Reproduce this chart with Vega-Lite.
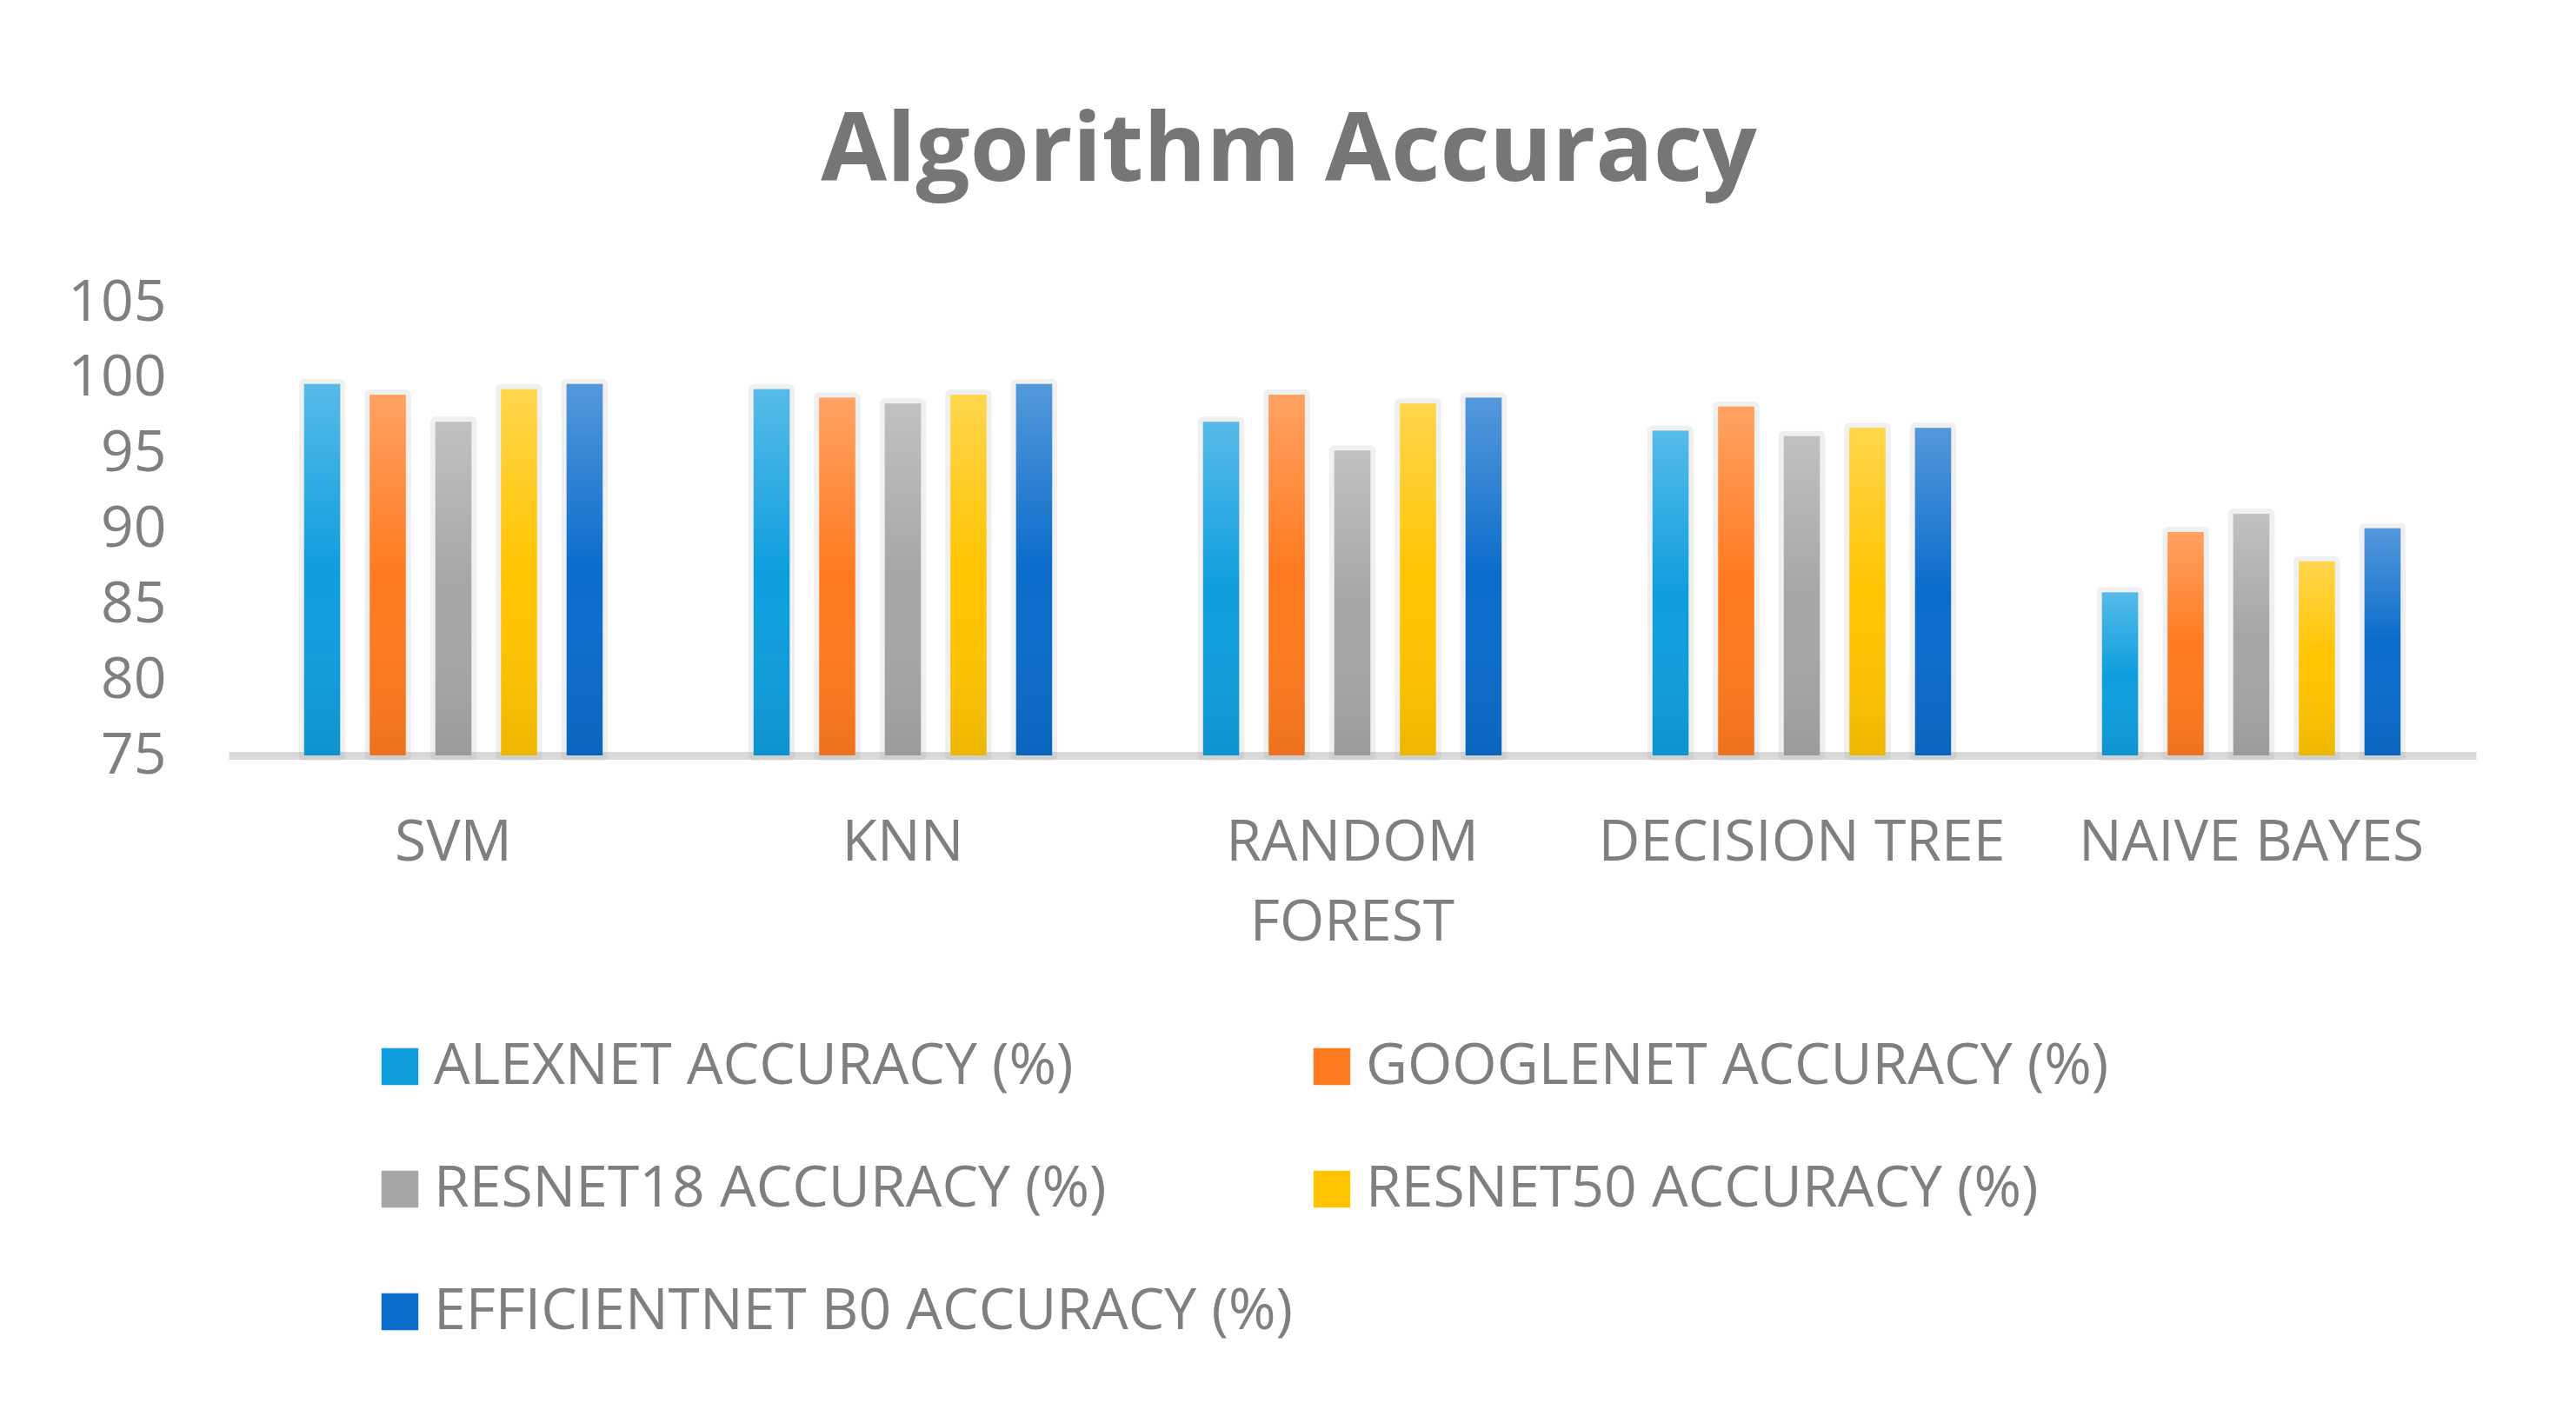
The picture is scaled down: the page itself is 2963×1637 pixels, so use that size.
{
  "$schema": "https://vega.github.io/schema/vega-lite/v6.json",
  "width": 2585,
  "height": 521,
  "autosize": {"type": "none"},
  "padding": {"left": 263, "top": 348, "right": 115, "bottom": 768},
  "background": "white",
  "title": {
    "text": "Algorithm Accuracy",
    "fontSize": 110,
    "fontWeight": "bold",
    "font": "Open Sans",
    "color": "#767676",
    "anchor": "middle",
    "dx": -73,
    "offset": 84
  },
  "config": {
    "view": {"stroke": null},
    "font": "Open Sans",
    "axis": {"labelLineHeight": 92}
  },
  "data": {
    "values": [
      {"Algorithm": "SVM", "Model": "ALEXNET ACCURACY (%)", "Accuracy": 99.6},
      {"Algorithm": "SVM", "Model": "GOOGLENET ACCURACY (%)", "Accuracy": 98.9},
      {"Algorithm": "SVM", "Model": "RESNET18 ACCURACY (%)", "Accuracy": 97.1},
      {"Algorithm": "SVM", "Model": "RESNET50 ACCURACY (%)", "Accuracy": 99.25},
      {"Algorithm": "SVM", "Model": "EFFICIENTNET B0 ACCURACY (%)", "Accuracy": 99.6},
      {"Algorithm": "KNN", "Model": "ALEXNET ACCURACY (%)", "Accuracy": 99.25},
      {"Algorithm": "KNN", "Model": "GOOGLENET ACCURACY (%)", "Accuracy": 98.7},
      {"Algorithm": "KNN", "Model": "RESNET18 ACCURACY (%)", "Accuracy": 98.3},
      {"Algorithm": "KNN", "Model": "RESNET50 ACCURACY (%)", "Accuracy": 98.9},
      {"Algorithm": "KNN", "Model": "EFFICIENTNET B0 ACCURACY (%)", "Accuracy": 99.6},
      {"Algorithm": "RANDOM FOREST", "Model": "ALEXNET ACCURACY (%)", "Accuracy": 97.1},
      {"Algorithm": "RANDOM FOREST", "Model": "GOOGLENET ACCURACY (%)", "Accuracy": 98.9},
      {"Algorithm": "RANDOM FOREST", "Model": "RESNET18 ACCURACY (%)", "Accuracy": 95.2},
      {"Algorithm": "RANDOM FOREST", "Model": "RESNET50 ACCURACY (%)", "Accuracy": 98.3},
      {"Algorithm": "RANDOM FOREST", "Model": "EFFICIENTNET B0 ACCURACY (%)", "Accuracy": 98.7},
      {"Algorithm": "DECISION TREE", "Model": "ALEXNET ACCURACY (%)", "Accuracy": 96.5},
      {"Algorithm": "DECISION TREE", "Model": "GOOGLENET ACCURACY (%)", "Accuracy": 98.1},
      {"Algorithm": "DECISION TREE", "Model": "RESNET18 ACCURACY (%)", "Accuracy": 96.15},
      {"Algorithm": "DECISION TREE", "Model": "RESNET50 ACCURACY (%)", "Accuracy": 96.7},
      {"Algorithm": "DECISION TREE", "Model": "EFFICIENTNET B0 ACCURACY (%)", "Accuracy": 96.7},
      {"Algorithm": "NAIVE BAYES", "Model": "ALEXNET ACCURACY (%)", "Accuracy": 85.8},
      {"Algorithm": "NAIVE BAYES", "Model": "GOOGLENET ACCURACY (%)", "Accuracy": 89.8},
      {"Algorithm": "NAIVE BAYES", "Model": "RESNET18 ACCURACY (%)", "Accuracy": 91.0},
      {"Algorithm": "NAIVE BAYES", "Model": "RESNET50 ACCURACY (%)", "Accuracy": 87.85},
      {"Algorithm": "NAIVE BAYES", "Model": "EFFICIENTNET B0 ACCURACY (%)", "Accuracy": 90.05}
    ]
  },
  "encoding": {
    "x": {
      "field": "Algorithm",
      "type": "nominal",
      "sort": ["SVM", "KNN", "RANDOM FOREST", "DECISION TREE", "NAIVE BAYES"],
      "scale": {"paddingInner": 0.27, "paddingOuter": 0.135},
      "axis": {
        "title": null,
        "labelAngle": 0,
        "ticks": false,
        "domain": true,
        "domainColor": "#D9D9D9",
        "domainWidth": 9,
        "labelFontSize": 66,
        "labelColor": "#7F7F7F",
        "labelPadding": 68,
        "labelBaseline": "top",
        "labelLimit": 2000,
        "labelExpr": "datum.label == 'RANDOM FOREST' ? ['RANDOM', 'FOREST'] : datum.label"
      }
    },
    "xOffset": {
      "field": "Model",
      "type": "nominal",
      "sort": ["ALEXNET ACCURACY (%)", "GOOGLENET ACCURACY (%)", "RESNET18 ACCURACY (%)", "RESNET50 ACCURACY (%)", "EFFICIENTNET B0 ACCURACY (%)"],
      "scale": {"paddingInner": 0.45, "paddingOuter": 0.225}
    },
    "y": {
      "field": "Accuracy",
      "type": "quantitative",
      "scale": {"domain": [75, 105], "zero": false, "nice": false, "clamp": true},
      "axis": {
        "title": null,
        "values": [75, 80, 85, 90, 95, 100, 105],
        "grid": false,
        "domain": false,
        "ticks": false,
        "labelFontSize": 66,
        "labelColor": "#7F7F7F",
        "labelPadding": 72
      }
    }
  },
  "layer": [
    {
      "mark": {"type": "bar", "fill": "#FFFFFF", "stroke": "#9A9A9A", "strokeWidth": 12, "strokeOpacity": 0.15, "strokeJoin": "round"},
      "encoding": {"y2": {"datum": 75}}
    },
    {
      "mark": {"type": "bar"},
      "encoding": {
        "y2": {"datum": 75},
        "color": {
          "field": "Model",
          "type": "nominal",
          "scale": {
            "domain": ["ALEXNET ACCURACY (%)", "GOOGLENET ACCURACY (%)", "RESNET18 ACCURACY (%)", "RESNET50 ACCURACY (%)", "EFFICIENTNET B0 ACCURACY (%)"],
            "range": ["#0E9EDE", "#FF7A1F", "#A6A6A6", "#FFC400", "#0A6CCB"]
          },
          "legend": {
            "title": null,
            "orient": "none",
            "legendX": 164,
            "legendY": 846,
            "direction": "horizontal",
            "columns": 2,
            "symbolType": "square",
            "symbolSize": 1800,
            "symbolStrokeWidth": 0,
            "labelFontSize": 66,
            "labelColor": "#7F7F7F",
            "labelLimit": 2000,
            "labelOffset": 6,
            "rowPadding": 75,
            "columnPadding": 12
          }
        }
      }
    },
    {
      "mark": {
        "type": "bar",
        "fill": {
          "gradient": "linear",
          "x1": 0, "y1": 0, "x2": 0, "y2": 1,
          "stops": [
            {"offset": 0, "color": "rgba(255,255,255,0.3)"},
            {"offset": 0.5, "color": "rgba(255,255,255,0)"},
            {"offset": 1, "color": "rgba(0,0,0,0.07)"}
          ]
        }
      },
      "encoding": {"y2": {"datum": 75}}
    }
  ]
}
